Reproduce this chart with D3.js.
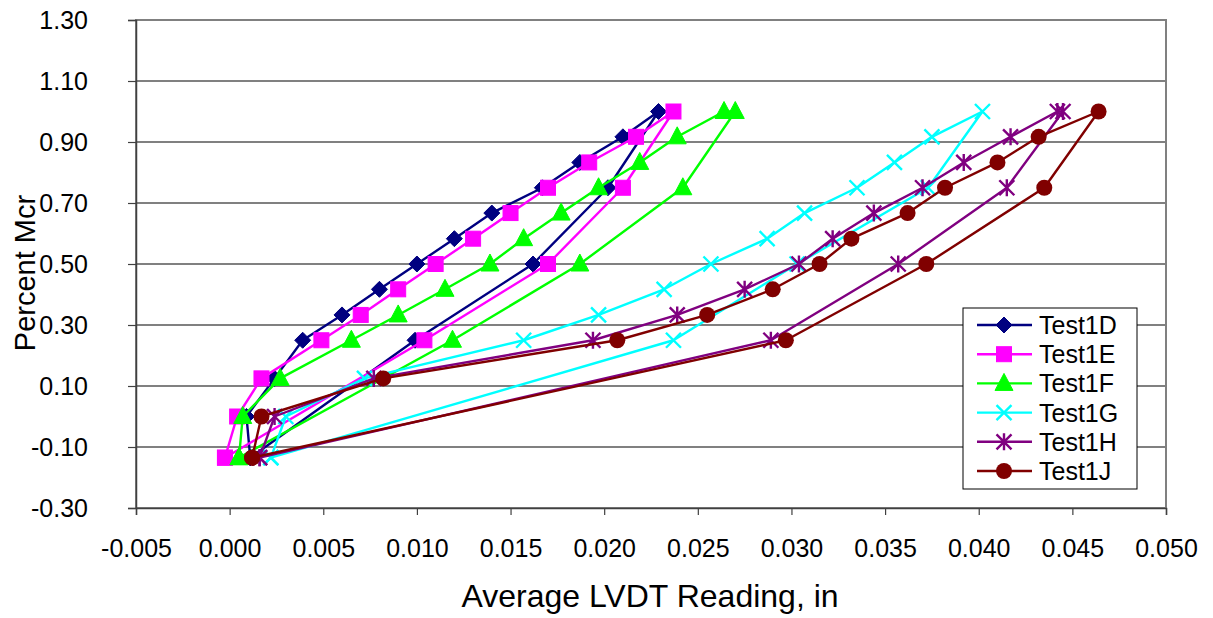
<!DOCTYPE html>
<html>
<head>
<meta charset="utf-8">
<script src="https://cdn.jsdelivr.net/npm/d3@7"></script>
<style>
  html, body { margin: 0; padding: 0; background: #fff; }
  svg { display: block; font-family: Arial, "Liberation Sans", sans-serif; }
</style>
</head>
<body>
<svg id="chart" width="1213" height="618"></svg>
<script>
// ---------- data ----------
const seriesNames = ["Test1D", "Test1E", "Test1F", "Test1G", "Test1H", "Test1J"];

// load levels (Percent Mcr) for a single-peak loop and a double-peak loop
const levelsSingle = [-0.135, 0, 0.125, 0.25, 0.333, 0.417, 0.5, 0.583, 0.667, 0.75, 0.833, 0.917, 1.0, 0.75, 0.5, 0.25, -0.135];
const levelsDouble = [-0.135, 0, 0.125, 0.25, 0.333, 0.417, 0.5, 0.583, 0.667, 0.75, 0.833, 0.917, 1.0, 1.0, 0.75, 0.5, 0.25, -0.135];

// average LVDT readings, in
const test1D = [0.0011, 0.0009, 0.0024, 0.0039, 0.0060, 0.0080, 0.0100, 0.0120, 0.0140, 0.0167, 0.0187, 0.0210, 0.0229, 0.0202, 0.0162, 0.0099, 0.0011];
const test1E = [-0.00025, 0.0004, 0.0017, 0.0049, 0.0070, 0.0090, 0.0110, 0.0130, 0.0150, 0.0170, 0.0192, 0.0217, 0.0237, 0.0210, 0.0170, 0.0104, -0.00025];
const test1F = [0.0005, 0.0007, 0.0027, 0.0065, 0.0090, 0.0115, 0.0139, 0.0157, 0.0177, 0.0197, 0.0219, 0.0239, 0.0264, 0.0270, 0.0242, 0.0187, 0.0119, 0.0005];
const test1G = [0.0022, 0.0030, 0.0072, 0.0157, 0.0197, 0.0232, 0.0257, 0.0287, 0.0307, 0.0335, 0.0355, 0.0375, 0.0402, 0.0373, 0.0303, 0.0237, 0.0022];
const test1H = [0.0016, 0.0024, 0.0077, 0.0194, 0.0239, 0.0275, 0.0304, 0.0322, 0.0344, 0.0370, 0.0392, 0.0417, 0.0442, 0.0445, 0.0415, 0.0357, 0.0289, 0.0016];
const test1J = [0.0012, 0.0017, 0.0082, 0.0207, 0.0255, 0.0290, 0.0315, 0.0332, 0.0362, 0.0382, 0.0410, 0.0432, 0.0464, 0.0435, 0.0372, 0.0297, 0.0012];

const xTicks = [-0.005, 0.000, 0.005, 0.010, 0.015, 0.020, 0.025, 0.030, 0.035, 0.040, 0.045, 0.050];
const yTicks = [-0.30, -0.10, 0.10, 0.30, 0.50, 0.70, 0.90, 1.10, 1.30];

const xTitle = "Average LVDT Reading, in";
const yTitle = "Percent Mcr";

// ---------- styles ----------
const colors = ["#000080", "#FF00FF", "#00FF00", "#00FFFF", "#800080", "#800000"];
const markers = ["diamond", "square", "triangle", "x", "asterisk", "circle"];

const series = [
  { name: seriesNames[0], xs: test1D, ys: levelsSingle },
  { name: seriesNames[1], xs: test1E, ys: levelsSingle },
  { name: seriesNames[2], xs: test1F, ys: levelsDouble },
  { name: seriesNames[3], xs: test1G, ys: levelsSingle },
  { name: seriesNames[4], xs: test1H, ys: levelsDouble },
  { name: seriesNames[5], xs: test1J, ys: levelsSingle }
].map((s, i) => ({ ...s, color: colors[i], marker: markers[i],
  points: s.xs.map((x, k) => ({ x, y: s.ys[k] })) }));

// ---------- layout ----------
const svg = d3.select("#chart");
const plot = { left: 136, right: 1166, top: 20, bottom: 508 };

const x = d3.scaleLinear().domain([-0.005, 0.050]).range([plot.left, plot.right]);
const y = d3.scaleLinear().domain([-0.30, 1.30]).range([plot.bottom, plot.top]);

// gridlines
svg.append("g").selectAll("line").data(yTicks.slice(1, -1)).join("line")
  .attr("x1", plot.left).attr("x2", plot.right)
  .attr("y1", d => y(d)).attr("y2", d => y(d))
  .attr("stroke", "#808080").attr("stroke-width", 2);

// plot border
svg.append("rect")
  .attr("x", plot.left).attr("y", plot.top)
  .attr("width", plot.right - plot.left).attr("height", plot.bottom - plot.top)
  .attr("fill", "none").attr("stroke", "#808080").attr("stroke-width", 2);

// axes
const yAxis = d3.axisLeft(y).tickValues(yTicks).tickFormat(d3.format(".2f")).tickSize(8).tickPadding(40);
const xAxis = d3.axisBottom(x).tickValues(xTicks).tickFormat(d3.format(".3f")).tickSize(7).tickPadding(24);

const gy = svg.append("g").attr("transform", `translate(${plot.left},0)`).call(yAxis);
const gx = svg.append("g").attr("transform", `translate(0,${plot.bottom})`).call(xAxis);
[gx, gy].forEach(g => {
  g.select(".domain").attr("stroke", "#404040").attr("stroke-width", 1.5);
  g.selectAll(".tick line").attr("stroke", "#404040").attr("stroke-width", 1.2);
  g.selectAll(".tick text").attr("fill", "#000").style("font-size", "25px")
    .style("font-family", "Arial, 'Liberation Sans', sans-serif");
});
gx.selectAll(".tick text").attr("text-anchor", "middle").text(d => d3.format(".3f")(d).replace("−", "-"));
gy.selectAll(".tick text").text(d => d3.format(".2f")(d).replace("−", "-"));

// axis titles
svg.append("text").attr("x", 650).attr("y", 607)
  .attr("text-anchor", "middle").style("font-size", "32px").text(xTitle);
svg.append("text").attr("transform", `translate(35,${273}) rotate(-90)`)
  .attr("text-anchor", "middle").style("font-size", "29px").text(yTitle);

// ---------- marker drawing ----------
function drawMarker(g, type, cx, cy, color) {
  const h = 7.5;
  switch (type) {
    case "diamond":
      g.append("path").attr("d", `M${cx},${cy - 8}L${cx + 8},${cy}L${cx},${cy + 8}L${cx - 8},${cy}Z`)
        .attr("fill", color).attr("stroke", color).attr("stroke-width", 1);
      break;
    case "square":
      g.append("rect").attr("x", cx - 7.5).attr("y", cy - 7.5).attr("width", 15).attr("height", 15)
        .attr("fill", color).attr("stroke", color).attr("stroke-width", 1);
      break;
    case "triangle":
      g.append("path").attr("d", `M${cx},${cy - 10}L${cx + 9},${cy + 7}L${cx - 9},${cy + 7}Z`)
        .attr("fill", color).attr("stroke", color).attr("stroke-width", 1);
      break;
    case "x":
      g.append("path").attr("d", `M${cx - h},${cy - h}L${cx + h},${cy + h}M${cx - h},${cy + h}L${cx + h},${cy - h}`)
        .attr("fill", "none").attr("stroke", color).attr("stroke-width", 2.4);
      break;
    case "asterisk":
      g.append("path").attr("d", `M${cx - h},${cy - h}L${cx + h},${cy + h}M${cx - h},${cy + h}L${cx + h},${cy - h}M${cx},${cy - h - 1}L${cx},${cy + h + 1}`)
        .attr("fill", "none").attr("stroke", color).attr("stroke-width", 2.4);
      break;
    case "circle":
      g.append("circle").attr("cx", cx).attr("cy", cy).attr("r", 8).attr("fill", color);
      break;
  }
}

// ---------- series ----------
const line = d3.line().x(d => x(d.x)).y(d => y(d.y));
series.forEach(s => {
  const g = svg.append("g");
  g.append("path").datum(s.points).attr("d", line)
    .attr("fill", "none").attr("stroke", s.color).attr("stroke-width", 2.4).attr("stroke-linejoin", "round");
  s.points.forEach(p => drawMarker(g, s.marker, x(p.x), y(p.y), s.color));
});

// ---------- legend ----------
const legend = { left: 963, top: 308, width: 174, height: 181, rowH: 29.2 };
const lg = svg.append("g");
lg.append("rect").attr("x", legend.left).attr("y", legend.top)
  .attr("width", legend.width).attr("height", legend.height)
  .attr("fill", "#fff").attr("stroke", "#000").attr("stroke-width", 1);
series.forEach((s, i) => {
  const cy = legend.top + 17 + i * legend.rowH;
  lg.append("line").attr("x1", 977).attr("x2", 1032).attr("y1", cy).attr("y2", cy)
    .attr("stroke", s.color).attr("stroke-width", 2.4);
  drawMarker(lg, s.marker, 1004, cy, s.color);
  lg.append("text").attr("x", 1039).attr("y", cy + 9).style("font-size", "25px").text(s.name);
});
</script>
</body>
</html>
